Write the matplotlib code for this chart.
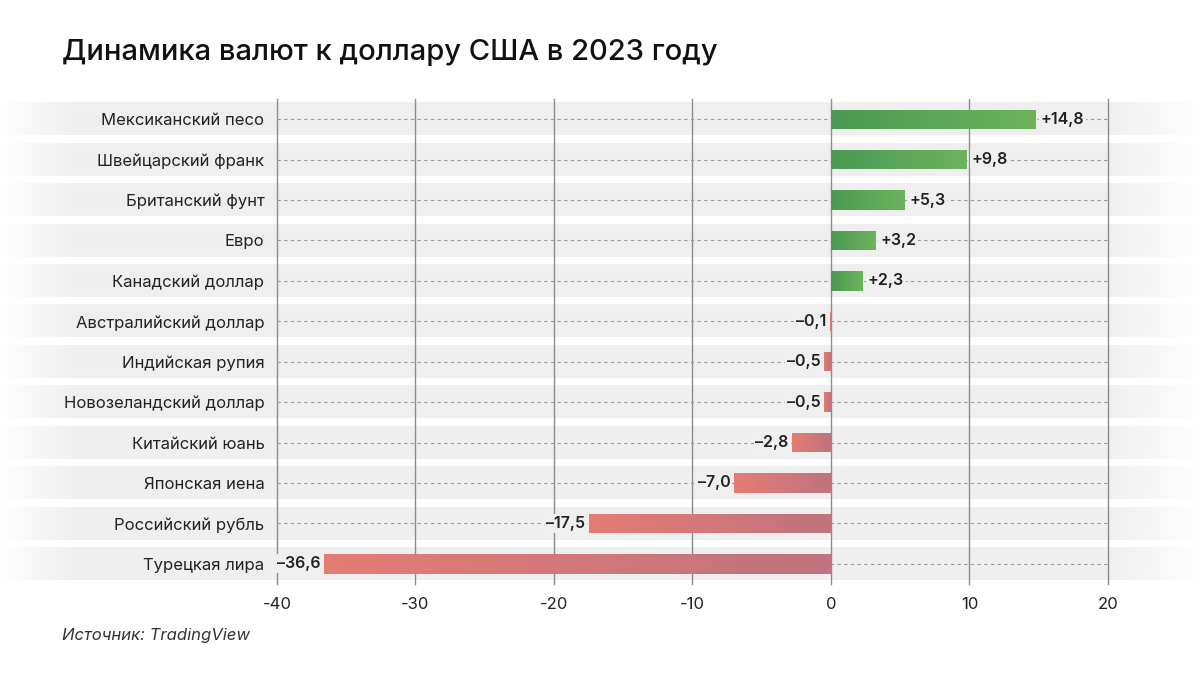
import numpy as np
import matplotlib
matplotlib.use("Agg")
import matplotlib.pyplot as plt
from matplotlib.colors import to_rgb

plt.rcParams['font.family'] = ['Inter', 'DejaVu Sans']

currencies = ["Мексиканский песо", "Швейцарский франк", "Британский фунт", "Евро",
              "Канадский доллар", "Австралийский доллар", "Индийская рупия",
              "Новозеландский доллар", "Китайский юань", "Японская иена",
              "Российский рубль", "Турецкая лира"]
changes = [14.8, 9.8, 5.3, 3.2, 2.3, -0.1, -0.5, -0.5, -2.8, -7.0, -17.5, -36.6]
x_ticks = [-40, -30, -20, -10, 0, 10, 20]

band_color = '#efefef'
green_zero, green_tip = '#4a9a52', '#6cb35c'
red_tip, red_zero = '#e47d73', '#c0737f'


def gradient(c_left, c_right, n=256):
    a, b = np.array(to_rgb(c_left)), np.array(to_rgb(c_right))
    t = np.linspace(0, 1, n)[:, None]
    return (a + (b - a) * t)[None, :, :]


fig = plt.figure(figsize=(12, 6.75), dpi=100)
ax = fig.add_axes([0.2308, 0.1348, 0.6925, 0.7185])

ypos = np.arange(len(currencies))
ax.set_xlim(-40, 20)
ax.set_ylim(len(currencies) - 0.5, -0.5)

# grey row bands, spanning the whole figure width with faded edges
px_per_unit = ax.get_position().width * 1200 / 60
x_left = -40 - (0.2308 * 1200) / px_per_unit
x_right = 20 + ((1 - 0.9233) * 1200) / px_per_unit
n = 600
xs = np.linspace(0, 1200, n)
alpha = np.clip(xs / 75, 0, 1) * np.clip((1200 - xs) / 95, 0, 1)
band = np.zeros((1, n, 4))
band[..., :3] = to_rgb(band_color)
band[..., 3] = alpha
for y in ypos:
    im = ax.imshow(band, extent=[x_left, x_right, y + 0.4, y - 0.4],
                   aspect='auto', zorder=0, interpolation='bilinear')
    im.set_clip_on(False)

# grid
for xt in x_ticks:
    ax.axvline(xt, color='#8c8c8c', lw=1, zorder=1, clip_on=False)
for y in ypos:
    ax.axhline(y, color='#9a9a9a', lw=0.8, ls=(0, (3, 3)), zorder=1.5)

# bars with gradient fill
bars = ax.barh(ypos, changes, height=0.48, color='none', zorder=2)
for bar, v in zip(bars, changes):
    x0, x1 = sorted([0, v])
    y0 = bar.get_y()
    h = bar.get_height()
    grad = gradient(green_zero, green_tip) if v > 0 else gradient(red_tip, red_zero)
    im = ax.imshow(grad, extent=[x0, x1, y0 + h, y0], aspect='auto', zorder=2,
                   interpolation='bilinear')
    im.set_clip_path(bar)

ax.set_xlim(-40, 20)
ax.set_ylim(len(currencies) - 0.5, -0.5)

# value labels
for y, v in zip(ypos, changes):
    txt = ('+' if v > 0 else '–') + f"{abs(v):.1f}".replace('.', ',')
    if v > 0:
        x, ha = v + 0.35, 'left'
    else:
        x, ha = v - 0.25, 'right'
    ax.text(x, y, txt, ha=ha, va='center', fontsize=11.5, fontweight='semibold',
            color='#222222', zorder=3,
            bbox=dict(boxstyle='square,pad=0.12', fc=band_color, ec='none'))

ax.set_yticks(ypos)
ax.set_yticklabels(currencies, fontsize=12, color='#222222')
ax.set_xticks(x_ticks)
ax.set_xticklabels([str(t) for t in x_ticks], fontsize=12, color='#222222')
ax.tick_params(axis='y', length=0, pad=9)
ax.tick_params(axis='x', length=0, pad=9)
for s in ax.spines.values():
    s.set_visible(False)
ax.set_facecolor('none')

fig.text(0.052, 0.922, "Динамика валют к доллару США в 2023 году", fontsize=21,
         color='#111111', va='center', ha='left', fontweight='medium')
fig.text(0.052, 0.058, "Источник: TradingView", fontsize=12, style='italic',
         color='#333333', va='center', ha='left')

fig.savefig("out.png", dpi=100)
